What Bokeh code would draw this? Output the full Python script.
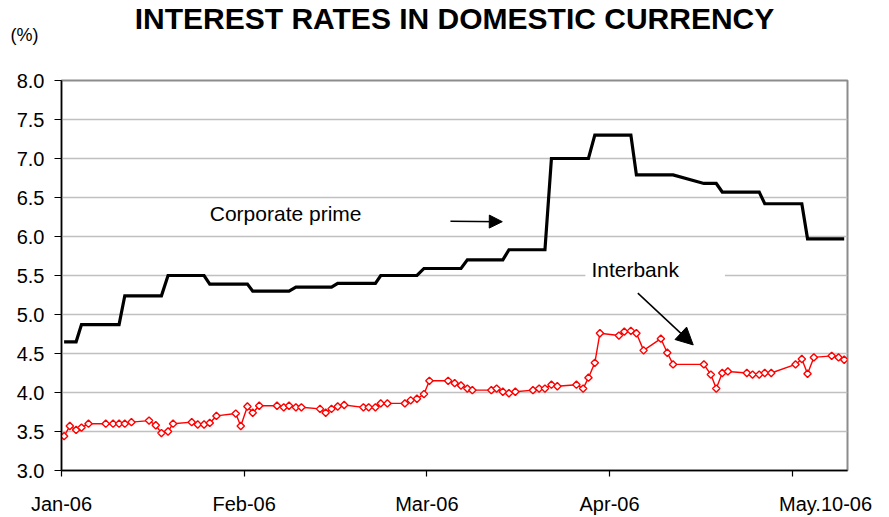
from bokeh.plotting import figure
from bokeh.models import (Range1d, FixedTicker, NumeralTickFormatter, Label, Arrow, NormalHead, Title)
from bokeh.embed import file_html
from bokeh.resources import INLINE
import math

# ---- data ----
title_text = "INTEREST RATES IN DOMESTIC CURRENCY"
unit_text = "(%)"
tick_days = [0, 31, 62, 93, 124]
tick_labels = ["Jan-06", "Feb-06", "Mar-06", "Apr-06", "May.10-06"]
y_ticks = [3.0, 3.5, 4.0, 4.5, 5.0, 5.5, 6.0, 6.5, 7.0, 7.5, 8.0]

x_days = [0.44, 1.41, 2.48, 3.39, 4.58, 7.51, 8.75, 9.77, 10.74, 11.87,
          14.86, 16.0, 16.96, 18.08, 18.93, 22.1, 23.12, 24.19, 25.16, 26.29,
          29.57, 30.42, 31.55, 32.45, 33.55, 36.57, 37.71, 38.61, 39.78, 40.71,
          43.87, 44.83, 45.82, 46.87, 47.97, 51.23, 52.13, 53.27, 54.17, 55.3,
          58.27, 59.25, 60.32, 61.51, 62.43, 65.61, 66.72, 67.79, 68.87, 69.72,
          72.94, 73.84, 74.89, 75.93, 77.01, 80.0, 81.05, 82.04, 83.14, 84.14,
          87.38, 88.52, 89.42, 90.5, 91.37, 94.59, 95.5, 96.62, 97.56, 98.78,
          101.71, 102.8, 103.78, 109.01, 110.19, 111.11, 112.13, 113.08, 116.3, 117.27,
          118.4, 119.34, 120.44, 124.56, 125.63, 126.6, 127.67, 130.7, 131.86, 132.82]

interbank = [3.44, 3.57, 3.52, 3.55, 3.60, 3.60, 3.60, 3.60, 3.60, 3.62,
             3.64, 3.58, 3.48, 3.50, 3.60, 3.62, 3.59, 3.59, 3.61, 3.70,
             3.73, 3.57, 3.82, 3.74, 3.83, 3.83, 3.81, 3.83, 3.81, 3.81,
             3.79, 3.74, 3.79, 3.82, 3.84, 3.81, 3.81, 3.81, 3.86, 3.86,
             3.86, 3.90, 3.92, 3.98, 4.15, 4.15, 4.12, 4.09, 4.05, 4.03,
             4.03, 4.05, 4.01, 3.99, 4.01, 4.03, 4.05, 4.05, 4.10, 4.08,
             4.10, 4.05, 4.19, 4.38, 4.76, 4.73, 4.78, 4.79, 4.76, 4.54,
             4.69, 4.51, 4.36, 4.36, 4.23, 4.05, 4.25, 4.27, 4.25, 4.23,
             4.23, 4.25, 4.25, 4.36, 4.43, 4.24, 4.45, 4.47, 4.45, 4.42]

corporate_prime = [4.65, 4.65, 4.65, 4.87, 4.87, 4.87, 4.87, 4.87, 5.24, 5.24,
                   5.24, 5.24, 5.24, 5.50, 5.50, 5.50, 5.50, 5.50, 5.39, 5.39,
                   5.39, 5.39, 5.39, 5.30, 5.30, 5.30, 5.30, 5.30, 5.35, 5.35,
                   5.35, 5.35, 5.35, 5.40, 5.40, 5.40, 5.40, 5.40, 5.50, 5.50,
                   5.50, 5.50, 5.50, 5.59, 5.59, 5.59, 5.59, 5.59, 5.70, 5.70,
                   5.70, 5.70, 5.70, 5.83, 5.83, 5.83, 5.83, 5.83, 7.00, 7.00,
                   7.00, 7.00, 7.00, 7.30, 7.30, 7.30, 7.30, 7.30, 6.79, 6.79,
                   6.79, 6.79, 6.79, 6.68, 6.68, 6.68, 6.57, 6.57, 6.57, 6.57,
                   6.57, 6.42, 6.42, 6.42, 6.42, 5.97, 5.97, 5.97, 5.97, 5.97]

FONT = "Liberation Sans"

p = figure(width=889, height=517, output_backend="svg", toolbar_location=None,
           x_range=Range1d(0, 133.38), y_range=Range1d(3, 8),
           min_border_left=61, min_border_right=42, min_border_top=80, min_border_bottom=44)
p.background_fill_color = "white"
p.border_fill_color = "white"
p.outline_line_color = "#8c8c8c"
p.outline_line_width = 2

# titles: both take no panel height; their text is pulled up from the frame top
p.add_layout(Title(text=unit_text, align="left", offset=-51, standoff=-112, vertical_align="top",
                   text_font=FONT, text_font_size="18px", text_font_style="normal",
                   text_color="black"), "above")
p.add_layout(Title(text=title_text, align="center", standoff=-158, vertical_align="top",
                   text_font=FONT, text_font_size="30px", text_font_style="bold",
                   text_color="black"), "above")

# grid
p.xgrid.grid_line_color = None
p.ygrid.ticker = FixedTicker(ticks=y_ticks)
p.ygrid.grid_line_color = "#c0c0c0"
p.ygrid.grid_line_width = 1.5

# axes
p.yaxis.ticker = FixedTicker(ticks=y_ticks)
p.yaxis.formatter = NumeralTickFormatter(format="0.0")
p.xaxis.ticker = FixedTicker(ticks=tick_days)
overrides = {d: lab for d, lab in zip(tick_days, tick_labels)}
# the last label sits to the right of its tick, as in the source
overrides[tick_days[-1]] = "\u00a0" * 12 + tick_labels[-1]
p.xaxis.major_label_overrides = overrides
for ax in (p.xaxis[0], p.yaxis[0]):
    ax.axis_line_color = "black"
    ax.axis_line_width = 1.5
    ax.major_tick_line_color = "black"
    ax.major_tick_line_width = 1.2
    ax.major_tick_in = 0
    ax.minor_tick_line_color = None
    ax.major_label_text_font = FONT
    ax.major_label_text_font_size = "20px"
    ax.major_label_text_color = "black"
p.yaxis.major_tick_out = 7
p.yaxis.major_label_standoff = 10
p.xaxis.major_tick_out = 6
p.xaxis.major_label_standoff = 16

# series
p.line(x_days, corporate_prime, line_color="black", line_width=3.2, line_join="miter")
p.line(x_days, interbank, line_color="#ff0000", line_width=1.4)
p.scatter(x_days, interbank, marker="square", angle=math.pi / 4, size=5.2,
          line_color="#ff0000", line_width=1.4, fill_color="white")

# annotations inside the plot
p.add_layout(Label(x=25.16, y=6.29, text="Corporate prime", text_align="left", text_baseline="middle",
                   text_font=FONT, text_font_size="21px", text_color="black"))
p.add_layout(Label(x=88.9, y=5.58, text="Interbank", text_align="left", text_baseline="middle",
                   text_font=FONT, text_font_size="21px", text_color="black",
                   background_fill_color="white",
                   padding=dict(left=6, right=46, top=3, bottom=3)))

p.add_layout(Arrow(end=NormalHead(size=13, fill_color="black", line_color="black"),
                   x_start=66.0, y_start=6.195, x_end=74.8, y_end=6.19,
                   line_color="black", line_width=1.5))
p.add_layout(Arrow(end=NormalHead(size=17, fill_color="black", line_color="black"),
                   x_start=97.8, y_start=5.274, x_end=107.2, y_end=4.61,
                   line_color="black", line_width=1.5))

open("out.html", "w").write(file_html(p, INLINE))
